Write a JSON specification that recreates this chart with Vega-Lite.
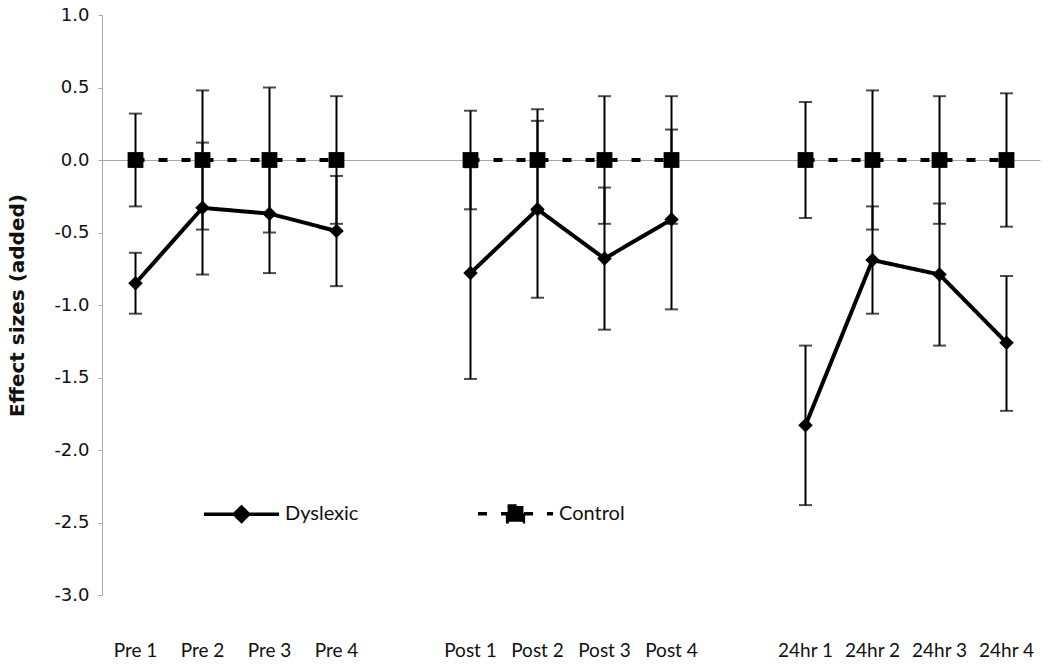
{
  "$schema": "https://vega.github.io/schema/vega-lite/v6.json",
  "width": 938,
  "height": 580,
  "autosize": "none",
  "padding": {"left": 102, "top": 15, "right": 16, "bottom": 69},
  "background": "white",
  "config": {
    "view": {"stroke": null},
    "axis": {"grid": false}
  },
  "data": {
    "values": [
      {"cond": "Pre 1", "phase": "Pre", "series": "Dyslexic", "mean": -0.85, "lo": -1.06, "hi": -0.64},
      {"cond": "Pre 2", "phase": "Pre", "series": "Dyslexic", "mean": -0.33, "lo": -0.79, "hi": 0.12},
      {"cond": "Pre 3", "phase": "Pre", "series": "Dyslexic", "mean": -0.37, "lo": -0.78, "hi": 0.04},
      {"cond": "Pre 4", "phase": "Pre", "series": "Dyslexic", "mean": -0.49, "lo": -0.87, "hi": -0.11},
      {"cond": "Post 1", "phase": "Post", "series": "Dyslexic", "mean": -0.78, "lo": -1.51, "hi": -0.05},
      {"cond": "Post 2", "phase": "Post", "series": "Dyslexic", "mean": -0.34, "lo": -0.95, "hi": 0.27},
      {"cond": "Post 3", "phase": "Post", "series": "Dyslexic", "mean": -0.68, "lo": -1.17, "hi": -0.19},
      {"cond": "Post 4", "phase": "Post", "series": "Dyslexic", "mean": -0.41, "lo": -1.03, "hi": 0.21},
      {"cond": "24hr 1", "phase": "24hr", "series": "Dyslexic", "mean": -1.83, "lo": -2.38, "hi": -1.28},
      {"cond": "24hr 2", "phase": "24hr", "series": "Dyslexic", "mean": -0.69, "lo": -1.06, "hi": -0.32},
      {"cond": "24hr 3", "phase": "24hr", "series": "Dyslexic", "mean": -0.79, "lo": -1.28, "hi": -0.3},
      {"cond": "24hr 4", "phase": "24hr", "series": "Dyslexic", "mean": -1.26, "lo": -1.73, "hi": -0.8},
      {"cond": "Pre 1", "phase": "Pre", "series": "Control", "mean": 0, "lo": -0.32, "hi": 0.32},
      {"cond": "Pre 2", "phase": "Pre", "series": "Control", "mean": 0, "lo": -0.48, "hi": 0.48},
      {"cond": "Pre 3", "phase": "Pre", "series": "Control", "mean": 0, "lo": -0.5, "hi": 0.5},
      {"cond": "Pre 4", "phase": "Pre", "series": "Control", "mean": 0, "lo": -0.44, "hi": 0.44},
      {"cond": "Post 1", "phase": "Post", "series": "Control", "mean": 0, "lo": -0.34, "hi": 0.34},
      {"cond": "Post 2", "phase": "Post", "series": "Control", "mean": 0, "lo": -0.35, "hi": 0.35},
      {"cond": "Post 3", "phase": "Post", "series": "Control", "mean": 0, "lo": -0.44, "hi": 0.44},
      {"cond": "Post 4", "phase": "Post", "series": "Control", "mean": 0, "lo": -0.44, "hi": 0.44},
      {"cond": "24hr 1", "phase": "24hr", "series": "Control", "mean": 0, "lo": -0.4, "hi": 0.4},
      {"cond": "24hr 2", "phase": "24hr", "series": "Control", "mean": 0, "lo": -0.48, "hi": 0.48},
      {"cond": "24hr 3", "phase": "24hr", "series": "Control", "mean": 0, "lo": -0.44, "hi": 0.44},
      {"cond": "24hr 4", "phase": "24hr", "series": "Control", "mean": 0, "lo": -0.46, "hi": 0.46}
    ]
  },
  "encoding": {
    "x": {
      "field": "cond",
      "type": "nominal",
      "scale": {
        "type": "band",
        "domain": ["Pre 1", "Pre 2", "Pre 3", "Pre 4", "gap1", "Post 1", "Post 2", "Post 3", "Post 4", "gap2", "24hr 1", "24hr 2", "24hr 3", "24hr 4"],
        "paddingInner": 0,
        "paddingOuter": 0
      },
      "axis": {
        "title": null,
        "orient": "bottom",
        "labelAngle": 0,
        "labelExpr": "indexof(datum.value, 'gap') === 0 ? '' : datum.value",
        "labelFont": "Lato",
        "labelFontSize": 19,
        "labelColor": "#111111",
        "labelBaseline": "middle",
        "labelPadding": 55,
        "ticks": false,
        "domain": false
      }
    },
    "y": {
      "field": "mean",
      "type": "quantitative",
      "scale": {"domain": [-3, 1], "nice": false, "zero": false},
      "axis": {
        "title": "Effect sizes (added)",
        "values": [-3, -2.5, -2, -1.5, -1, -0.5, 0, 0.5, 1],
        "labelExpr": "(datum.value < 0 ? '-' : '') + format(abs(datum.value), '.1f')",
        "labelFont": "DejaVu Sans",
        "labelFontSize": 18,
        "labelColor": "#111111",
        "labelPadding": 9,
        "tickSize": 4,
        "tickColor": "#a8a8a8",
        "domainColor": "#a8a8a8",
        "grid": true,
        "gridWidth": 1,
        "gridColor": {"condition": {"test": "datum.value === 0", "value": "#a8a8a8"}, "value": "transparent"},
        "titleFont": "DejaVu Sans",
        "titleFontSize": 20,
        "titleFontWeight": "bold",
        "titleColor": "#111111",
        "titleAngle": 270,
        "titleAlign": "center",
        "titleBaseline": "middle",
        "titleX": -85,
        "titleY": 290
      }
    }
  },
  "layer": [
    {
      "mark": {"type": "rule", "color": "black", "strokeWidth": 2},
      "encoding": {
        "y": {"field": "lo", "type": "quantitative"},
        "y2": {"field": "hi"}
      }
    },
    {
      "mark": {"type": "tick", "color": "black", "size": 13, "thickness": 2},
      "encoding": {"y": {"field": "lo", "type": "quantitative"}}
    },
    {
      "mark": {"type": "tick", "color": "black", "size": 13, "thickness": 2},
      "encoding": {"y": {"field": "hi", "type": "quantitative"}}
    },
    {
      "mark": {"type": "line", "color": "black", "strokeWidth": 4},
      "encoding": {
        "detail": {"field": "phase", "type": "nominal"},
        "strokeDash": {
          "field": "series",
          "type": "nominal",
          "scale": {"domain": ["Dyslexic", "Control"], "range": [[1, 0], [9, 14]]},
          "legend": {
            "title": null,
            "orient": "none",
            "legendX": 100,
            "legendY": 459,
            "direction": "horizontal",
            "columns": 2,
            "columnPadding": 112,
            "padding": 0,
            "symbolType": "M-1,0H1M-0.19,0L0,-0.19L0.19,0L0,0.19Z",
            "symbolSize": 5625,
            "symbolStrokeWidth": 3.5,
            "symbolStrokeColor": "black",
            "symbolFillColor": "black",
            "labelFont": "Lato",
            "labelFontSize": 20,
            "labelColor": "#111111",
            "labelOffset": 4,
            "encode": {
              "symbols": {
                "update": {
                  "shape": {"signal": "datum.value === 'Control' ? 'M-1,0H1M-0.21,-0.21H0.21V0.21H-0.21Z' : 'M-1,0H1M-0.19,0L0,-0.19L0.19,0L0,0.19Z'"},
                  "fill": {"value": "black"},
                  "stroke": {"value": "black"},
                  "strokeWidth": {"value": 3.5}
                }
              }
            }
          }
        }
      }
    },
    {
      "transform": [{"filter": "datum.series === 'Dyslexic'"}],
      "mark": {"type": "point", "shape": "diamond", "filled": true, "color": "black", "opacity": 1, "size": 210}
    },
    {
      "transform": [{"filter": "datum.series === 'Control'"}],
      "mark": {"type": "point", "shape": "square", "filled": true, "color": "black", "opacity": 1, "size": 250}
    }
  ]
}
